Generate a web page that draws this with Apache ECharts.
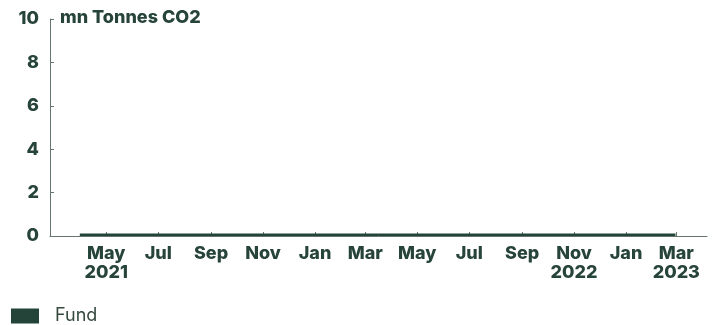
<!DOCTYPE html>
<html>
<head>
<meta charset="utf-8">
<script src="https://cdn.jsdelivr.net/npm/echarts@6/dist/echarts.min.js"></script>
<style>
html,body{margin:0;padding:0;background:#fff;}
#chart{width:716px;height:325px;}
</style>
</head>
<body>
<div id="chart"></div>
<script>
// month-end dates of the Fund series
var dates = ['2021-03-31','2021-04-30','2021-05-31','2021-06-30','2021-07-31','2021-08-31',
    '2021-09-30','2021-10-31','2021-11-30','2021-12-31','2022-01-31','2022-02-28',
    '2022-03-31','2022-04-30','2022-05-31','2022-06-30','2022-07-31','2022-08-31',
    '2022-09-30','2022-10-31','2022-11-30','2022-12-31','2023-01-31','2023-02-28'];
var fundValues = [0.12,0.12,0.12,0.12,0.12,0.12,0.12,0.12,0.12,0.12,0.12,0.12,
    0.12,0.12,0.12,0.12,0.12,0.12,0.12,0.12,0.12,0.12,0.12,0.12];
var tickDates = ['2021-05-01','2021-07-01','2021-09-01','2021-11-01','2022-01-01','2022-03-01',
    '2022-05-01','2022-07-01','2022-09-01','2022-11-01','2023-01-01','2023-03-01'];
var tickLabels = ['May\n2021','Jul','Sep','Nov','Jan','Mar','May','Jul','Sep','Nov\n2022','Jan','Mar\n2023'];

var textColor = '#27443a';
var axisColor = '#65756c';
var fundColor = '#24443a';
var font = 'Inter';

function ts(s){ return Date.parse(s + 'T00:00:00Z'); }

var tickTs = tickDates.map(ts);
var seriesData = [];
for (var i = 0; i < dates.length; i++) {
    seriesData.push([ts(dates[i]), fundValues[i]]);
}

function xLabelFormatter(value){
    var idx = tickTs.indexOf(value);
    return idx >= 0 ? tickLabels[idx] : '';
}

var option = {
    animation: false,
    grid: {left: 50, right: 9, top: 19, bottom: 89},
    legend: {
        data: [{name: 'Fund', icon: 'rect'}],
        left: 11,
        top: 307,
        padding: 0,
        itemWidth: 28,
        itemHeight: 15,
        textStyle: {color: '#34483e', fontFamily: font, fontSize: 18, padding: [0, 0, 0, 11]}
    },
    xAxis: {
        type: 'value',
        min: ts('2021-02-24'),
        max: ts('2023-04-06'),
        splitLine: {show: false},
        axisLine: {lineStyle: {color: axisColor, width: 1}},
        axisTick: {show: true, inside: true, length: 4, customValues: tickTs, lineStyle: {color: axisColor}},
        axisLabel: {
            customValues: tickTs,
            formatter: xLabelFormatter,
            color: textColor,
            fontFamily: font,
            fontWeight: 800,
            fontSize: 18,
            lineHeight: 19,
            margin: 8
        }
    },
    yAxis: {
        type: 'value',
        min: 0,
        max: 10,
        interval: 2,
        splitLine: {show: false},
        axisLine: {show: true, lineStyle: {color: axisColor, width: 1}},
        axisTick: {show: true, inside: true, length: 4, lineStyle: {color: axisColor}},
        axisLabel: {
            color: textColor,
            fontFamily: font,
            fontWeight: 800,
            fontSize: 18,
            margin: 11
        }
    },
    graphic: [{
        type: 'text',
        left: 60,
        top: 9,
        style: {
            text: 'mn Tonnes CO2',
            fill: textColor,
            font: '800 18px ' + font
        }
    }],
    series: [{
        name: 'Fund',
        type: 'line',
        data: seriesData,
        symbol: 'none',
        color: fundColor,
        lineStyle: {width: 0},
        areaStyle: {color: fundColor, opacity: 1}
    }]
};

var chart = echarts.init(document.getElementById('chart'));
chart.setOption(option);
</script>
</body>
</html>
